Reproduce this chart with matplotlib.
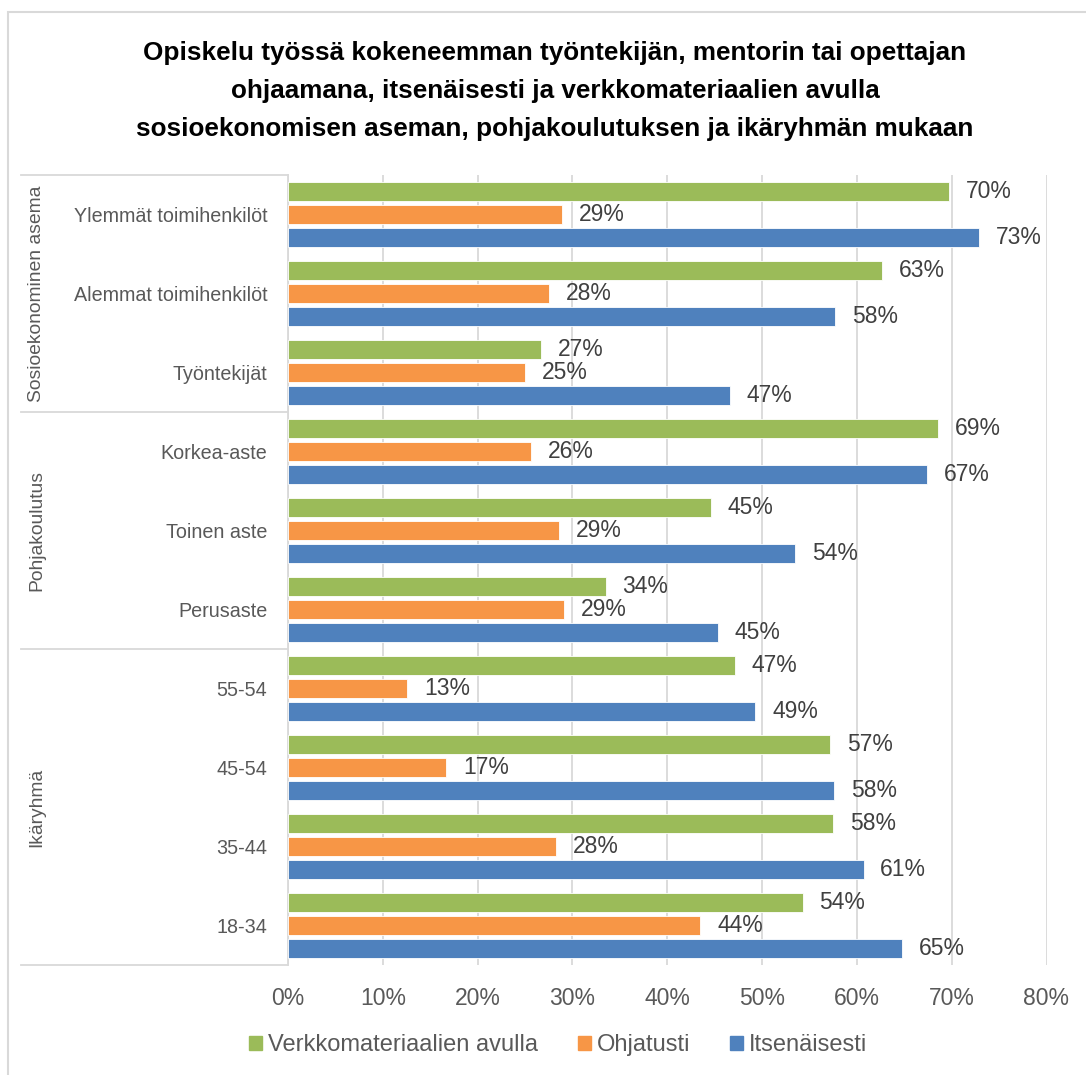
import matplotlib
matplotlib.use("Agg")
import matplotlib.pyplot as plt
from matplotlib.patches import Rectangle
import numpy as np

plt.rcParams['font.family'] = ['Liberation Sans', 'DejaVu Sans']

title = ("Opiskelu työssä kokeneemman työntekijän, mentorin tai opettajan\n"
         "ohjaamana, itsenäisesti ja verkkomateriaalien avulla\n"
         "sosioekonomisen aseman, pohjakoulutuksen ja ikäryhmän mukaan")

categories = ["Ylemmät toimihenkilöt", "Alemmat toimihenkilöt", "Työntekijät",
              "Korkea-aste", "Toinen aste", "Perusaste",
              "55-54", "45-54", "35-44", "18-34"]
groups = ["Sosioekonominen asema", "Pohjakoulutus", "Ikäryhmä"]
group_sizes = [3, 3, 4]

series_names = ["Verkkomateriaalien avulla", "Ohjatusti", "Itsenäisesti"]
verkko = [69.7, 62.7, 26.7, 68.6, 44.6, 33.5, 47.1, 57.2, 57.5, 54.3]
ohjatusti = [28.9, 27.5, 25.0, 25.6, 28.6, 29.1, 12.6, 16.7, 28.3, 43.5]
itsenaisesti = [72.9, 57.7, 46.6, 67.4, 53.5, 45.3, 49.3, 57.6, 60.7, 64.8]
colors = ["#9BBB59", "#F79646", "#4F81BD"]

xticks = [0, 10, 20, 30, 40, 50, 60, 70, 80]

fig = plt.figure(figsize=(10.86, 10.75), dpi=100)
ax = fig.add_axes([288/1086, 1 - 965/1075, (1046.5 - 288)/1086, (965 - 175)/1075])

y = np.arange(len(categories))
step = 0.293
h = 0.232
for k, (vals, col) in enumerate(zip([verkko, ohjatusti, itsenaisesti], colors)):
    pos = y + (k - 1) * step
    ax.barh(pos, vals, height=h, color=col, edgecolor="white", linewidth=0.6,
            label=series_names[k], zorder=3)
    for p, v in zip(pos, vals):
        ax.annotate(f"{int(v + 0.5)}%", (v, p), xytext=(12, 0), textcoords="offset points",
                    va="center", ha="left", fontsize=16.5, color="#404040")

ax.set_xlim(0, 80)
ax.set_ylim(len(categories) - 0.5, -0.5)
ax.set_xticks(xticks)
ax.set_xticklabels([f"{t}%" for t in xticks], fontsize=16.5, color="#595959")
ax.tick_params(axis="x", length=0, pad=16)
ax.set_yticks(y)
ax.set_yticklabels(categories, fontsize=14.2, color="#595959")
ax.tick_params(axis="y", length=0, pad=15)
ax.grid(axis="x", color="#D9D9D9", linewidth=1.3, zorder=0)
for s in ["top", "right", "bottom"]:
    ax.spines[s].set_visible(False)
ax.spines["left"].set_color("#D9D9D9")
ax.spines["left"].set_linewidth(1.3)

# group separators and labels
px = 80 / (1046.5 - 288)
bounds = [0]
for n in group_sizes:
    bounds.append(bounds[-1] + n)
for b in bounds:
    yy = b - 0.5
    ax.plot([-(288 - 21) * px, 0], [yy, yy], color="#D9D9D9",
            linewidth=1.3, clip_on=False)
for g, b0, b1 in zip(groups, bounds[:-1], bounds[1:]):
    ax.text(-(288 - 37) * px, (b0 + b1 - 1) / 2, g, rotation=90,
            ha="center", va="center", fontsize=13.9, color="#595959")

fig.text(555 / 1086, 1 - 91 / 1075, title, ha="center", va="center",
         fontsize=18.8, fontweight="bold", linespacing=1.73, color="black")

handles = [Rectangle((0, 0), 1, 1, color=c) for c in colors]
fig.legend(handles, series_names, loc="center", bbox_to_anchor=(558 / 1086, 1 - 1045 / 1075),
           ncol=3, frameon=False, fontsize=17, handlelength=0.55, handleheight=0.55,
           handletextpad=0.25, columnspacing=1.7, labelcolor="#595959")

fig.patches.append(Rectangle((8 / 1086, -0.01), 1.1, 1 - 12 / 1075 + 0.01,
                             transform=fig.transFigure, fill=False,
                             edgecolor="#D9D9D9", linewidth=1.5))

fig.savefig("out.png", dpi=100)
